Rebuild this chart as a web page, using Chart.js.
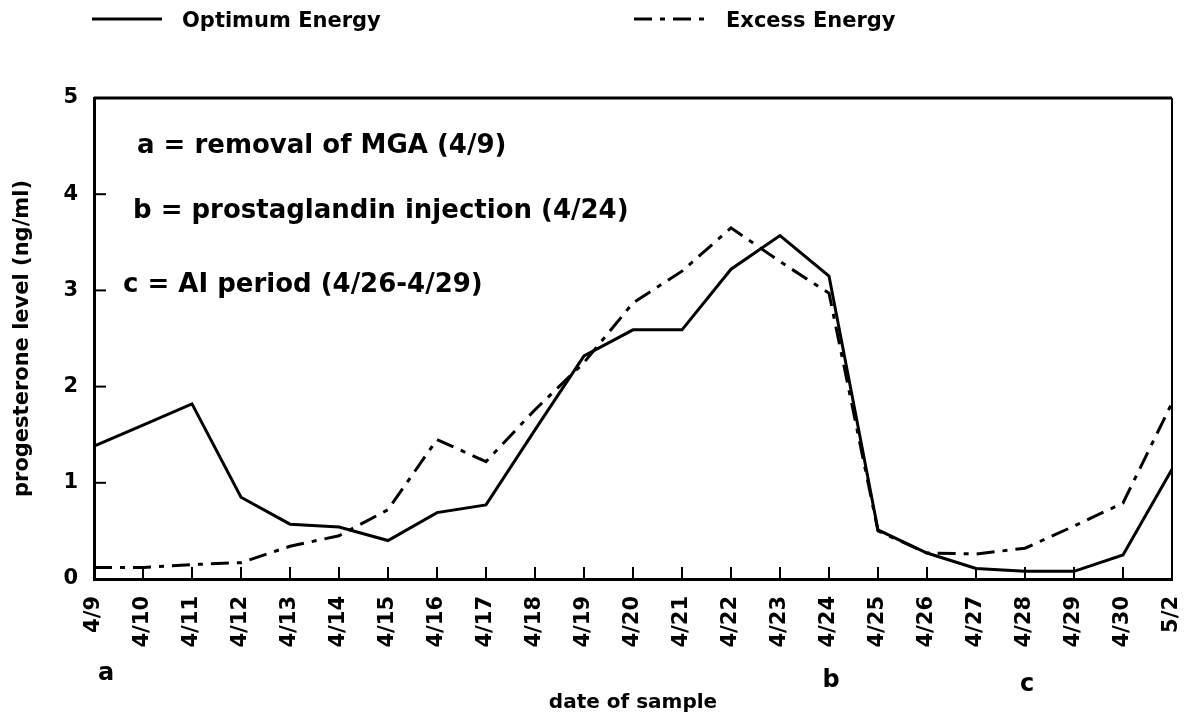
<!DOCTYPE html>
<html>
<head>
  <title>Progesterone Level</title>
  <script src="https://cdn.jsdelivr.net/npm/chart.js"></script>
  <style>
    html, body { margin: 0; padding: 0; background: #fff; }
    #wrap { width: 1188px; height: 717px; }
  </style>
</head>
<body>
  <div id="wrap"><canvas id="chart" width="1188" height="717"></canvas></div>
  <script>
    // sample dates (x axis)
    const dates = ['4/9', '4/10', '4/11', '4/12', '4/13', '4/14', '4/15', '4/16', '4/17', '4/18', '4/19',
      '4/20', '4/21', '4/22', '4/23', '4/24', '4/25', '4/26', '4/27', '4/28', '4/29', '4/30', '5/2'];

    // progesterone level (ng/ml)
    const optimum = [1.38, 1.60, 1.82, 0.85, 0.57, 0.54, 0.40, 0.69, 0.77, 1.55, 2.32, 2.59,
      2.59, 3.22, 3.57, 3.15, 0.51, 0.27, 0.11, 0.08, 0.08, 0.25, 1.14];
    const excess = [0.12, 0.12, 0.15, 0.17, 0.34, 0.45, 0.72, 1.45, 1.22, 1.76, 2.25, 2.87,
      3.20, 3.65, 3.30, 2.97, 0.50, 0.27, 0.26, 0.32, 0.55, 0.79, 1.83];

    const yTicks = [0, 1, 2, 3, 4, 5];
    const notes = ['a = removal of MGA (4/9)', 'b = prostaglandin injection (4/24)', 'c = AI period (4/26-4/29)'];
    const markers = [['a', '4/9'], ['b', '4/24'], ['c', '4/28']];

    const FONT = "'DejaVu Sans', sans-serif";

    const decorPlugin = {
      id: 'decor',
      afterDatasetsDraw(chart) {
        const ctx = chart.ctx;
        const area = chart.chartArea;
        const xs = chart.scales.x;
        const ys = chart.scales.y;
        ctx.save();
        ctx.strokeStyle = '#000';
        // top and right frame
        ctx.lineWidth = 3;
        ctx.beginPath();
        ctx.moveTo(area.left, area.top);
        ctx.lineTo(area.right, area.top);
        ctx.stroke();
        ctx.lineWidth = 2;
        ctx.beginPath();
        ctx.moveTo(area.right, area.top);
        ctx.lineTo(area.right, area.bottom);
        ctx.stroke();
        // inward ticks
        ctx.lineWidth = 2;
        xs.ticks.forEach((t, i) => {
          const x = xs.getPixelForTick(i);
          ctx.beginPath();
          ctx.moveTo(x, area.bottom);
          ctx.lineTo(x, area.bottom - 12);
          ctx.stroke();
        });
        ys.ticks.forEach((t, i) => {
          const y = ys.getPixelForTick(i);
          ctx.beginPath();
          ctx.moveTo(area.left, y);
          ctx.lineTo(area.left + 12, y);
          ctx.stroke();
        });
        ctx.restore();
      },
      afterDraw(chart) {
        const ctx = chart.ctx;
        const xs = chart.scales.x;
        ctx.save();
        ctx.fillStyle = '#000';
        ctx.textBaseline = 'middle';

        // legend
        ctx.font = 'bold 21px ' + FONT;
        const legendX = [[92, 162, 182], [634, 704, 726]];
        chart.data.datasets.forEach((ds, i) => {
          const [x0, x1, tx] = legendX[i];
          ctx.strokeStyle = ds.borderColor;
          ctx.lineWidth = ds.borderWidth;
          ctx.setLineDash(ds.borderDash || []);
          ctx.beginPath();
          ctx.moveTo(x0, 19);
          ctx.lineTo(x1, 19);
          ctx.stroke();
          ctx.setLineDash([]);
          ctx.fillText(ds.label, tx, 22);
        });

        // notes inside the plot
        ctx.font = 'bold 26px ' + FONT;
        const notePos = [[137, 146], [133, 211], [123, 285]];
        notes.forEach((n, i) => ctx.fillText(n, notePos[i][0], notePos[i][1]));

        // event markers under the axis
        ctx.font = 'bold 24px ' + FONT;
        ctx.textAlign = 'center';
        const markerY = [674, 681, 685];
        const markerDx = [12, 2, 2];
        markers.forEach(([m, d], i) => {
          ctx.fillText(m, xs.getPixelForValue(dates.indexOf(d)) + markerDx[i], markerY[i]);
        });
        ctx.restore();
      }
    };

    new Chart(document.getElementById('chart').getContext('2d'), {
      type: 'line',
      data: {
        labels: dates,
        datasets: [{
          label: 'Optimum Energy',
          data: optimum,
          borderColor: '#000',
          borderWidth: 3,
          pointRadius: 0,
          tension: 0,
          fill: false
        }, {
          label: 'Excess Energy',
          data: excess,
          borderColor: '#000',
          borderWidth: 3,
          borderDash: [18, 8, 5, 8],
          pointRadius: 0,
          tension: 0,
          fill: false
        }]
      },
      options: {
        responsive: false,
        animation: false,
        layout: { padding: { top: 98, right: 16, left: 0, bottom: 0 } },
        plugins: {
          legend: { display: false },
          tooltip: { enabled: false }
        },
        scales: {
          x: {
            type: 'category',
            offset: false,
            grid: { display: false, drawTicks: false },
            border: { display: true, color: '#000', width: 3 },
            ticks: {
              color: '#000',
              font: { family: FONT, size: 21, weight: 'bold' },
              minRotation: 90,
              maxRotation: 90,
              autoSkip: false,
              padding: 17
            },
            title: {
              display: true,
              text: 'date of sample',
              color: '#000',
              font: { family: FONT, size: 20, weight: 'bold' },
              padding: { top: 0, bottom: 2 }
            },
            afterFit(scale) {
              scale.height = 138;
              scale.paddingLeft = 0;
              scale.paddingRight = 0;
            }
          },
          y: {
            min: 0,
            max: 5,
            afterBuildTicks(scale) { scale.ticks = yTicks.map(v => ({ value: v })); },
            grid: { display: false, drawTicks: false },
            border: { display: true, color: '#000', width: 3 },
            ticks: {
              color: '#000',
              font: { family: FONT, size: 21, weight: 'bold' },
              padding: 16
            },
            title: {
              display: true,
              text: 'progesterone level (ng/ml)',
              color: '#000',
              font: { family: FONT, size: 21, weight: 'bold' },
              padding: { top: 10, bottom: 0 }
            },
            afterFit(scale) {
              scale.width = 94;
              scale.paddingTop = 0;
              scale.paddingBottom = 0;
            }
          }
        }
      },
      plugins: [decorPlugin]
    });
  </script>
</body>
</html>
